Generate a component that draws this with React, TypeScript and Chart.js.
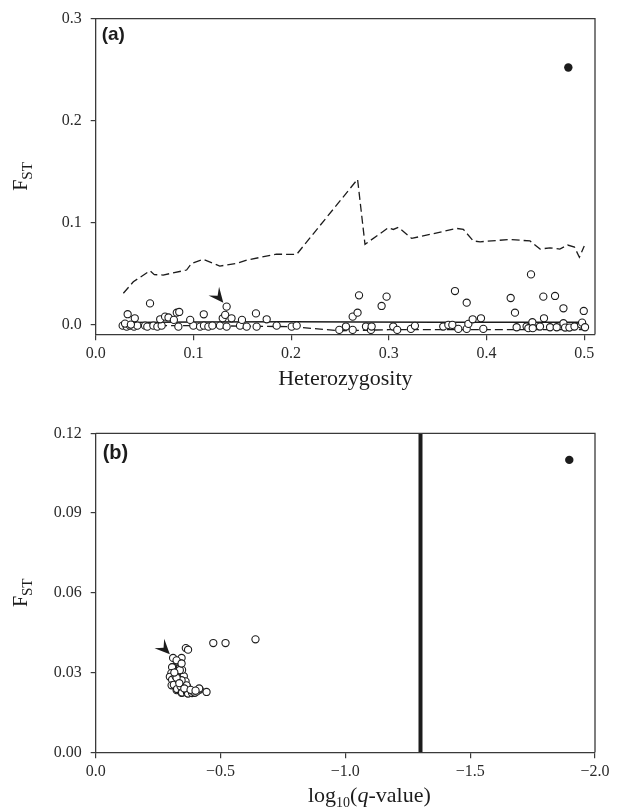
import React, { useEffect, useRef } from "react";
import { Chart, registerables } from "chart.js";

Chart.register(...registerables);

const SERIF = '"Liberation Serif", "Times New Roman", serif';
const SANS = '"Liberation Sans", Arial, sans-serif';
const INK = "#1c1c1c";
const AXIS = "#3a3a3a";

type Pt = [number, number];

// ---------------- Panel (a): FST vs heterozygosity ----------------
const A_X_TICKS = [0, 0.1, 0.2, 0.3, 0.4, 0.5];
const A_X_LABELS = ["0.0", "0.1", "0.2", "0.3", "0.4", "0.5"];
const A_Y_TICKS = [0, 0.1, 0.2, 0.3];
const A_Y_LABELS = ["0.0", "0.1", "0.2", "0.3"];

const A_LOCI: Pt[] = [
  [0.0276, -0.001], [0.0317, -0.002], [0.0351, -0.001], [0.0392, -0.002], [0.0426, -0.001],
  [0.0505, -0.001], [0.0528, -0.002], [0.059, -0.001], [0.0631, -0.002], [0.0675, -0.001],
  [0.0846, -0.002], [0.0999, -0.001], [0.1068, -0.002], [0.1108, -0.001], [0.1153, -0.002],
  [0.1194, -0.001], [0.1272, -0.001], [0.134, -0.002], [0.1477, -0.001], [0.1545, -0.002],
  [0.1647, -0.002], [0.1852, -0.001], [0.2006, -0.002], [0.2057, -0.001], [0.030, 0.001],
  [0.036, 0.0], [0.0327, 0.0102], [0.040, 0.0062], [0.0556, 0.0208], [0.066, 0.0052],
  [0.071, 0.0078], [0.0745, 0.007], [0.080, 0.0046], [0.083, 0.0117], [0.0855, 0.0124],
  [0.0967, 0.0046], [0.1106, 0.0101], [0.130, 0.0062], [0.1325, 0.0095], [0.134, 0.0176],
  [0.139, 0.0062], [0.1497, 0.0046], [0.164, 0.011], [0.175, 0.0052],
  [0.2493, -0.0052], [0.2561, -0.0019], [0.263, -0.0052], [0.263, 0.0078], [0.268, 0.0117],
  [0.2695, 0.0287], [0.2766, -0.0019], [0.2817, -0.0052], [0.2824, -0.0019], [0.2926, 0.0183],
  [0.2977, 0.0274], [0.3045, -0.0019], [0.3086, -0.0052], [0.3226, -0.0042], [0.3267, -0.0012],
  [0.3557, -0.0019], [0.3609, -0.0003], [0.365, -0.0003], [0.3677, 0.0329], [0.3711, -0.0042],
  [0.3797, 0.0215], [0.3797, -0.0042], [0.3814, 0.0007], [0.3858, 0.0052], [0.3943, 0.0062],
  [0.3967, -0.0042], [0.4247, 0.0261], [0.4291, 0.0117], [0.4308, -0.0026], [0.441, -0.0019],
  [0.4428, -0.0035], [0.4455, 0.0492], [0.4469, 0.0023], [0.4473, -0.0035], [0.4547, -0.0019],
  [0.4581, 0.0274], [0.4588, 0.0062], [0.465, -0.0026], [0.4701, 0.0281], [0.4718, -0.0026],
  [0.4787, 0.016], [0.4787, 0.0014], [0.4804, -0.0029], [0.4848, -0.0029], [0.49, -0.0019],
  [0.4968, 0.0], [0.4978, 0.0019], [0.4995, 0.0134], [0.5008, -0.0026],
];
const A_OUTLIER: Pt[] = [[0.4837, 0.252]];

const A_UPPER_H = [0.0283, 0.0385, 0.0556, 0.060, 0.069, 0.093, 0.098, 0.110, 0.127, 0.144, 0.1545,
  0.185, 0.2057, 0.268, 0.2756, 0.2995, 0.3046, 0.3098, 0.3234, 0.3695, 0.3763, 0.3865, 0.3934,
  0.424, 0.4445, 0.4548, 0.465, 0.475, 0.483, 0.49, 0.495, 0.5];
const A_UPPER_F = [0.0307, 0.042, 0.0528, 0.049, 0.0486, 0.0535, 0.060, 0.064, 0.0574, 0.060, 0.0633,
  0.069, 0.0689, 0.1425, 0.0787, 0.095, 0.0933, 0.0953, 0.0845, 0.0943, 0.0933, 0.082, 0.0812,
  0.0835, 0.082, 0.074, 0.0753, 0.074, 0.078, 0.076, 0.066, 0.077];
const A_MEDIAN_H = [0.028, 0.1, 0.2, 0.27, 0.35, 0.5];
const A_MEDIAN_F = [0.002, 0.0025, 0.0028, 0.0025, 0.0022, 0.0022];
const A_LOWER_H = [0.028, 0.1, 0.2, 0.25, 0.3, 0.4, 0.5];
const A_LOWER_F = [-0.001, -0.001, -0.002, -0.006, -0.005, -0.005, -0.005];
const A_ARROW_TIP = { x: 0.1306, y: 0.0215 };

// ---------------- Panel (b): FST vs log10(q-value) ----------------
const B_X_TICKS = [-2, -1.5, -1, -0.5, 0];
const B_X_LABELS = ["\u22122.0", "\u22121.5", "\u22121.0", "\u22120.5", "0.0"];
const B_Y_TICKS = [0, 0.03, 0.06, 0.09, 0.12];
const B_Y_LABELS = ["0.00", "0.03", "0.06", "0.09", "0.12"];

const B_LOCI: Pt[] = [
  [-0.310, 0.0355], [-0.344, 0.0355], [-0.34, 0.0334], [-0.324, 0.0346], [-0.361, 0.0392],
  [-0.370, 0.0386], [-0.471, 0.0411], [-0.520, 0.0411], [-0.640, 0.0425],
  [-0.31, 0.0321], [-0.306, 0.032], [-0.303, 0.0298], [-0.297, 0.0284], [-0.306, 0.0273],
  [-0.304, 0.0252], [-0.313, 0.0254], [-0.324, 0.0234], [-0.326, 0.0238], [-0.344, 0.0224],
  [-0.346, 0.0225], [-0.366, 0.0223], [-0.37, 0.0221], [-0.386, 0.0223], [-0.397, 0.0224],
  [-0.406, 0.0229], [-0.417, 0.0236], [-0.4145, 0.024], [-0.444, 0.0227], [-0.39, 0.0229],
  [-0.32, 0.0286], [-0.33, 0.0273], [-0.353, 0.0286], [-0.36, 0.0267], [-0.34, 0.0248],
  [-0.366, 0.0248], [-0.346, 0.031], [-0.326, 0.0304], [-0.364, 0.0252], [-0.344, 0.0271],
  [-0.324, 0.028], [-0.337, 0.0309], [-0.344, 0.0334], [-0.315, 0.030], [-0.335, 0.026],
  [-0.355, 0.024], [-0.38, 0.0235], [-0.40, 0.0232],
];
const B_OUTLIER: Pt[] = [[-1.897, 0.110]];
const B_THRESHOLD_X = [-1.301, -1.301];
const B_THRESHOLD_Y = [0, 0.12];
const B_ARROW_TIP = { x: -0.297, y: 0.0369 };

// ---------------- helpers ----------------
const toXY = (pts: Pt[]) => pts.map(([x, y]) => ({ x, y }));
const zipXY = (xs: number[], ys: number[]) => xs.map((x, i) => ({ x, y: ys[i] }));

function xAxis(min: number, max: number, ticks: number[], labels: string[], h: number, reverse = false) {
  return {
    type: "linear",
    min,
    max,
    reverse,
    afterBuildTicks: (s: any) => {
      s.ticks = ticks.map((v) => ({ value: v }));
    },
    afterFit: (s: any) => {
      s.height = h;
    },
    ticks: {
      callback: (_v: any, i: number) => labels[i],
      font: { family: SERIF, size: 16 },
      color: "#2a2a2a",
      padding: 4,
      maxRotation: 0,
      autoSkip: false,
    },
    grid: { drawOnChartArea: false, drawTicks: true, tickLength: 6, color: AXIS, lineWidth: 1.2 },
    border: { display: true, color: AXIS, width: 1.3 },
  };
}

function yAxis(min: number, max: number, ticks: number[], labels: string[], w: number) {
  return {
    type: "linear",
    min,
    max,
    afterBuildTicks: (s: any) => {
      s.ticks = ticks.map((v) => ({ value: v }));
    },
    afterFit: (s: any) => {
      s.width = w;
    },
    ticks: {
      callback: (_v: any, i: number) => labels[i],
      font: { family: SERIF, size: 16 },
      color: "#2a2a2a",
      padding: 9,
      autoSkip: false,
    },
    grid: { drawOnChartArea: false, drawTicks: true, tickLength: 5, color: AXIS, lineWidth: 1.2 },
    border: { display: true, color: AXIS, width: 1.3 },
  };
}

type Part = { t: string; font: string; dy: number };

const decorPlugin = {
  id: "decor",
  afterDraw(chart: any, _args: any, o: any) {
    const { ctx, chartArea: ca, scales } = chart;
    ctx.save();
    // top and right frame
    ctx.strokeStyle = AXIS;
    ctx.lineWidth = 1.3;
    ctx.beginPath();
    ctx.moveTo(ca.left, ca.top);
    ctx.lineTo(ca.right, ca.top);
    ctx.lineTo(ca.right, ca.bottom);
    ctx.stroke();

    // panel label
    ctx.fillStyle = INK;
    ctx.textAlign = "left";
    ctx.textBaseline = "alphabetic";
    ctx.font = `bold ${o.panelSize}px ${SANS}`;
    ctx.fillText(o.panel, ca.left + o.panelDx, ca.top + o.panelDy);

    // y title F_ST (rotated)
    const cy = (ca.top + ca.bottom) / 2;
    ctx.save();
    ctx.translate(o.yTitleX, cy);
    ctx.rotate(-Math.PI / 2);
    const fF = `20px ${SERIF}`;
    const fS = `15px ${SERIF}`;
    ctx.font = fF;
    const wF = ctx.measureText("F").width;
    ctx.font = fS;
    const wS = ctx.measureText("ST").width;
    const x0 = -(wF + wS) / 2;
    ctx.font = fF;
    ctx.fillText("F", x0, 0);
    ctx.font = fS;
    ctx.fillText("ST", x0 + wF, 5);
    ctx.restore();

    // x title made of parts
    const parts: Part[] = o.xTitle;
    let total = 0;
    const widths = parts.map((p) => {
      ctx.font = p.font;
      const w = ctx.measureText(p.t).width;
      total += w;
      return w;
    });
    let x = (ca.left + ca.right) / 2 + o.xTitleShift - total / 2;
    parts.forEach((p, i) => {
      ctx.font = p.font;
      ctx.fillText(p.t, x, o.xTitleBaseline + p.dy);
      x += widths[i];
    });

    // arrow head pointing at a locus
    if (o.arrow) {
      const tx = scales.x.getPixelForValue(o.arrow.x);
      const ty = scales.y.getPixelForValue(o.arrow.y);
      const len = Math.hypot(o.arrow.dx, o.arrow.dy);
      const ux = o.arrow.dx / len;
      const uy = o.arrow.dy / len;
      const nx = -uy;
      const ny = ux;
      const L = 15;
      const W = 6.8;
      ctx.fillStyle = INK;
      ctx.beginPath();
      ctx.moveTo(tx, ty);
      ctx.lineTo(tx - L * ux + W * nx, ty - L * uy + W * ny);
      ctx.lineTo(tx - 0.6 * L * ux, ty - 0.6 * L * uy);
      ctx.lineTo(tx - L * ux - W * nx, ty - L * uy - W * ny);
      ctx.closePath();
      ctx.fill();
    }
    ctx.restore();
  },
};

function lineDs(data: any[], dash: number[], width: number) {
  return {
    type: "scatter",
    data,
    showLine: true,
    borderColor: INK,
    borderWidth: width,
    borderDash: dash,
    pointRadius: 0,
    fill: false,
    tension: 0,
  };
}

function makeConfigA() {
  return {
    type: "scatter",
    data: {
      datasets: [
        {
          data: toXY(A_LOCI),
          pointRadius: 3.6,
          pointBackgroundColor: "#ffffff",
          pointBorderColor: INK,
          pointBorderWidth: 1.1,
        },
        {
          data: toXY(A_OUTLIER),
          pointRadius: 4.2,
          pointBackgroundColor: INK,
          pointBorderColor: INK,
          pointBorderWidth: 0,
        },
        lineDs(zipXY(A_UPPER_H, A_UPPER_F), [8, 4], 1.3),
        lineDs(zipXY(A_MEDIAN_H, A_MEDIAN_F), [], 1.5),
        lineDs(zipXY(A_LOWER_H, A_LOWER_F), [8, 4], 1.3),
      ],
    },
    options: {
      responsive: false,
      animation: false,
      devicePixelRatio: 1,
      events: [],
      layout: { padding: { left: 0, right: 25, top: 18, bottom: 0 } },
      scales: {
        x: xAxis(0, 0.511, A_X_TICKS, A_X_LABELS, 65.7),
        y: yAxis(-0.0095, 0.3, A_Y_TICKS, A_Y_LABELS, 95.7),
      },
      plugins: {
        legend: { display: false },
        tooltip: { enabled: false },
        decor: {
          panel: "(a)",
          panelSize: 19,
          panelDx: 6,
          panelDy: 21,
          yTitleX: 27,
          xTitle: [{ t: "Heterozygosity", font: `22px ${SERIF}`, dy: 0 }],
          xTitleShift: 0,
          xTitleBaseline: 385,
          arrow: { x: A_ARROW_TIP.x, y: A_ARROW_TIP.y, dx: 8.6, dy: 10.5 },
        },
      },
    },
    plugins: [decorPlugin],
  };
}

function makeConfigB() {
  return {
    type: "scatter",
    data: {
      datasets: [
        {
          data: toXY(B_LOCI),
          pointRadius: 3.6,
          pointBackgroundColor: "#ffffff",
          pointBorderColor: INK,
          pointBorderWidth: 1.1,
        },
        {
          data: toXY(B_OUTLIER),
          pointRadius: 4.2,
          pointBackgroundColor: INK,
          pointBorderColor: INK,
          pointBorderWidth: 0,
        },
        lineDs(zipXY(B_THRESHOLD_X, B_THRESHOLD_Y), [], 4),
      ],
    },
    options: {
      responsive: false,
      animation: false,
      devicePixelRatio: 1,
      events: [],
      layout: { padding: { left: 0, right: 25, top: 33.3, bottom: 0 } },
      scales: {
        x: xAxis(-2, 0, B_X_TICKS, B_X_LABELS, 58.7, true),
        y: yAxis(0, 0.12, B_Y_TICKS, B_Y_LABELS, 95.7),
      },
      plugins: {
        legend: { display: false },
        tooltip: { enabled: false },
        decor: {
          panel: "(b)",
          panelSize: 20,
          panelDx: 7,
          panelDy: 25.7,
          yTitleX: 27,
          xTitle: [
            { t: "log", font: `22px ${SERIF}`, dy: 0 },
            { t: "10", font: `14px ${SERIF}`, dy: 5 },
            { t: "(", font: `22px ${SERIF}`, dy: 0 },
            { t: "q", font: `italic 22px ${SERIF}`, dy: 0 },
            { t: "-value)", font: `22px ${SERIF}`, dy: 0 },
          ],
          xTitleShift: 24,
          xTitleBaseline: 401.7,
          arrow: { x: B_ARROW_TIP.x, y: B_ARROW_TIP.y, dx: 10, dy: 10.2 },
        },
      },
    },
    plugins: [decorPlugin],
  };
}

function Panel({ make, top, height }: { make: () => any; top: number; height: number }) {
  const ref = useRef<HTMLCanvasElement | null>(null);
  useEffect(() => {
    if (!ref.current) return;
    const chart = new Chart(ref.current, make());
    return () => chart.destroy();
  }, [make]);
  return (
    <canvas
      ref={ref}
      width={620}
      height={height}
      style={{ position: "absolute", left: 0, top, width: 620, height, display: "block" }}
    />
  );
}

export default function App() {
  return (
    <div
      style={{
        position: "absolute",
        left: 0,
        top: 0,
        width: 620,
        height: 811,
        background: "#ffffff",
        overflow: "hidden",
      }}
    >
      <Panel make={makeConfigA} top={0} height={400} />
      <Panel make={makeConfigB} top={400} height={411} />
    </div>
  );
}
